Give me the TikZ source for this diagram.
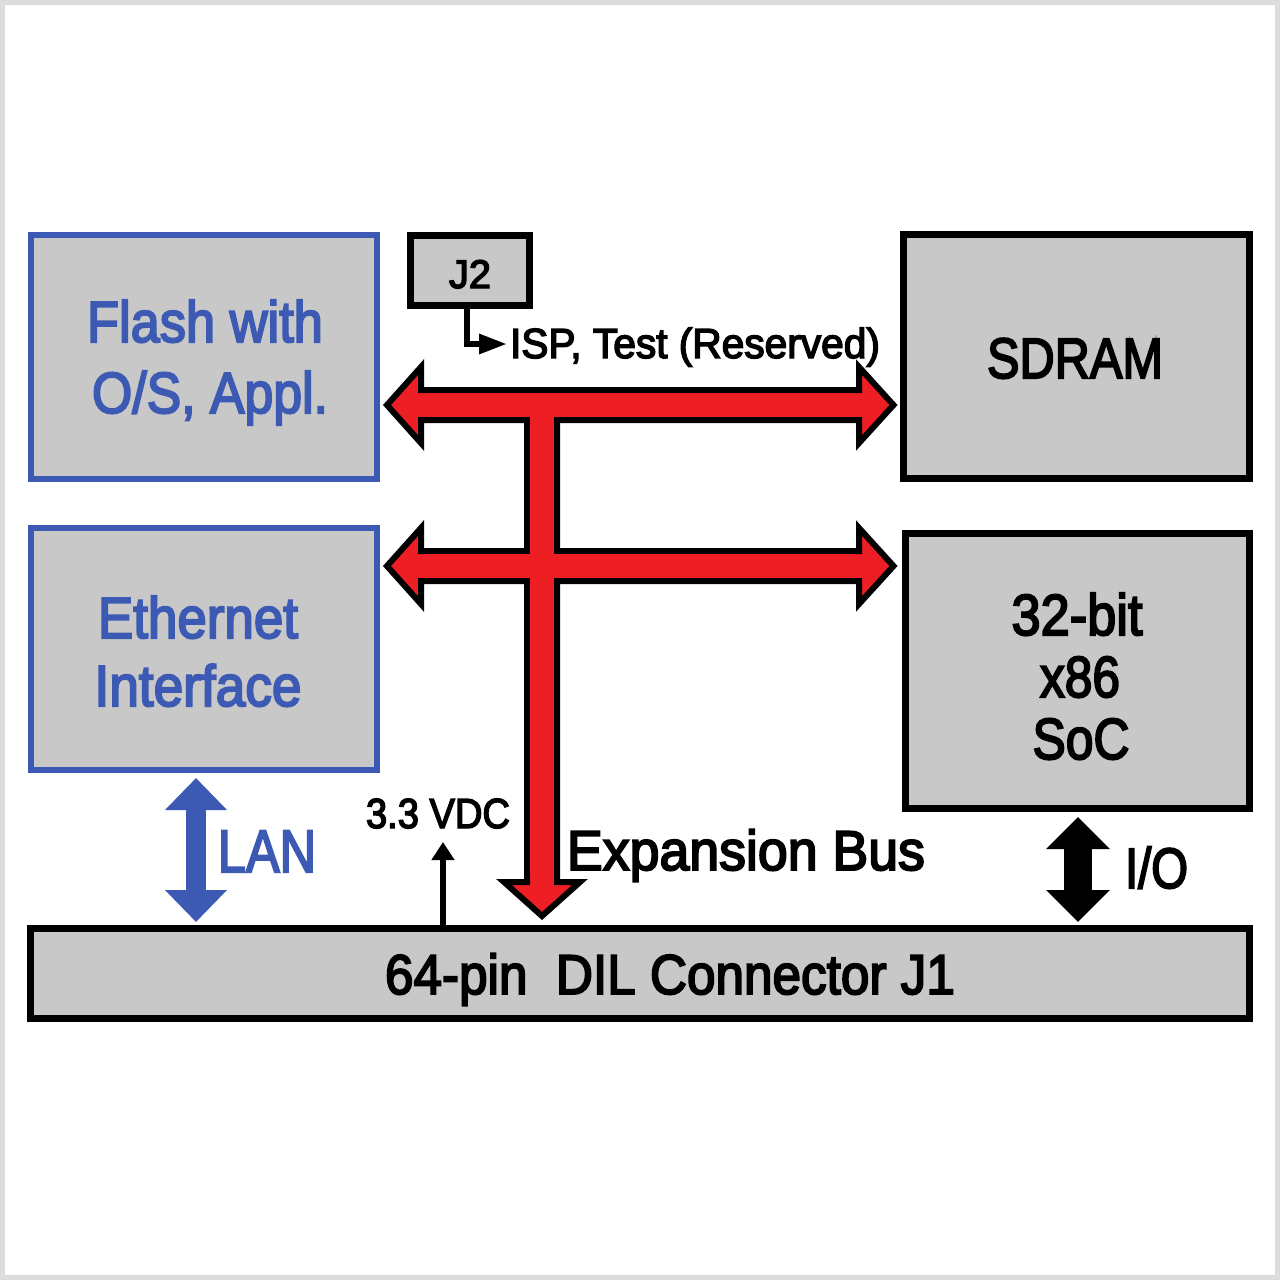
\documentclass[tikz,border=0pt]{standalone}
\usepackage{fontspec}
\setmainfont{Liberation Sans}
\newfontface\medface{Liberation Sans}[FakeBold=3.5]
\usepackage{graphicx}
\usetikzlibrary{arrows.meta}
\definecolor{boxgray}{RGB}{200,200,200}
\definecolor{myblue}{RGB}{60,90,180}
\definecolor{busred}{RGB}{237,30,36}
\definecolor{framegray}{RGB}{220,220,220}
\newsavebox\fitbox
\newcommand\fitw[2]{\sbox\fitbox{#2}\scalebox{\fpeval{#1/\wd\fitbox}}[1]{\usebox\fitbox}}
\newcommand\fsz[1]{\fontsize{#1}{#1}\medface}
\begin{document}
\begin{tikzpicture}[x=1pt,y=-1pt,
  gbox/.style={draw=black, fill=boxgray, line width=7pt, inner sep=0pt},
  bbox/.style={draw=myblue, fill=boxgray, line width=6pt, inner sep=0pt},
  txt/.style={inner sep=0pt, outer sep=0pt},
  buspoly/.style={fill=busred, draw=black, line width=6pt, line join=miter},
  businner/.style={fill=busred},
  lanarr/.style={draw=myblue, line width=20pt,
    {Triangle[width=60pt,length=32pt]}-{Triangle[width=60pt,length=32pt]}},
  ioarr/.style={draw=black, line width=28pt,
    {Triangle[width=62pt,length=32pt]}-{Triangle[width=62pt,length=32pt]}},
  thinarr/.style={draw=black, line width=6pt, line join=miter}
]
\useasboundingbox (0,0) rectangle (1280,1280);
\fill[white] (0,0) rectangle (1280,1280);
\draw[framegray, line width=5pt] (2.5,2.5) rectangle (1277.5,1277.5);

% boxes
\node[bbox, minimum width=346pt, minimum height=244pt] (flash) at (204,357) {};
\node[bbox, minimum width=346pt, minimum height=242pt] (eth) at (204,649) {};
\node[gbox, minimum width=346pt, minimum height=244pt] (sdram) at (1076.5,356.5) {};
\node[gbox, minimum width=344pt, minimum height=275pt] (soc) at (1077.5,671) {};
\node[gbox, minimum width=1219pt, minimum height=90pt] (j1) at (640,973.5) {};
\node[gbox, minimum width=119pt, minimum height=70pt] (j2) at (470,270.5) {};

% red bus
\draw[buspoly] (387,405) -- (421,367) -- (421,390) -- (859,390) -- (859,367)
  -- (893.5,405) -- (859,443) -- (859,420) -- (421,420) -- (421,443) -- cycle;
\draw[buspoly] (387,566) -- (421,528) -- (421,551) -- (859,551) -- (859,528)
  -- (893.5,566) -- (859,604) -- (859,581) -- (421,581) -- (421,604) -- cycle;
\draw[buspoly] (527,405) -- (527,882) -- (504,882) -- (542,916) -- (580,882)
  -- (557,882) -- (557,405) -- cycle;
\fill[businner] (424,393) rectangle (856,417);
\fill[businner] (424,554) rectangle (856,578);
\fill[businner] (530,393) rectangle (554,879);

% coordinates for free ends
\coordinate (lanx) at (196,0);
\coordinate (iox) at (1078,0);
\coordinate (vdcx) at (443,0);
\coordinate (vdctip) at (443,842);
\coordinate (j2x) at (467,0);
\coordinate (isptip) at (507,344);

% arrows
\draw[lanarr, shorten <=5pt, shorten >=3pt] (eth.south -| lanx) -- (j1.north -| lanx);
\draw[ioarr, shorten <=5pt, shorten >=3pt] (soc.south -| iox) -- (j1.north -| iox);
\draw[thinarr, -{Triangle[width=22pt,length=18pt]}] (j1.north -| vdcx) -- (vdctip);
\draw[thinarr, -{Triangle[width=19pt,length=28pt]}] (j2.south -| j2x) |- (isptip);

% texts
\node[txt, anchor=base, text=myblue, font=\fsz{58}] (flashA) at (205,342) {\fitw{236}{Flash with}};
\node[txt, anchor=base, text=myblue, font=\fsz{58}] (flashB) at (210,413) {\fitw{236}{O/S, Appl.}};
\node[txt, anchor=base, text=myblue, font=\fsz{58}] (ethA) at (198,638) {\fitw{200}{Ethernet}};
\node[txt, anchor=base, text=myblue, font=\fsz{58}] (ethB) at (198,706) {\fitw{207}{Interface}};
\node[txt, anchor=base, font=\fsz{57}] (sdramT) at (1075,378) {\fitw{176}{SDRAM}};
\node[txt, anchor=base, font=\fsz{58}] (socA) at (1077,635) {\fitw{131}{32-bit}};
\node[txt, anchor=base, font=\fsz{58}] (socB) at (1080,697) {\fitw{80}{x86}};
\node[txt, anchor=base, font=\fsz{58}] (socC) at (1081,759) {\fitw{97}{SoC}};
\node[txt, anchor=base, font=\fsz{40}] (j2T) at (470,288) {\fitw{42}{J2}};
\node[txt, anchor=base west, font=\fsz{42}] (ispT) at (510,358) {\fitw{370}{ISP, Test (Reserved)}};
\node[txt, anchor=base, font=\fsz{42}] (vdcT) at (438,828) {\fitw{144}{3.3 VDC}};
\node[txt, anchor=base west, text=myblue, font=\fsz{60}] (lanT) at (218,872) {\fitw{98}{LAN}};
\node[txt, anchor=base west, font=\fsz{56}] (expT) at (567,870) {\fitw{358}{Expansion Bus}};
\node[txt, anchor=base west, font=\fsz{57}] (ioT) at (1125,888) {\fitw{63}{I/O}};
\node[txt, anchor=base, font=\fsz{56}] (j1T) at (670,994) {\fitw{570}{64-pin\ \ DIL Connector J1}};
\end{tikzpicture}
\end{document}
